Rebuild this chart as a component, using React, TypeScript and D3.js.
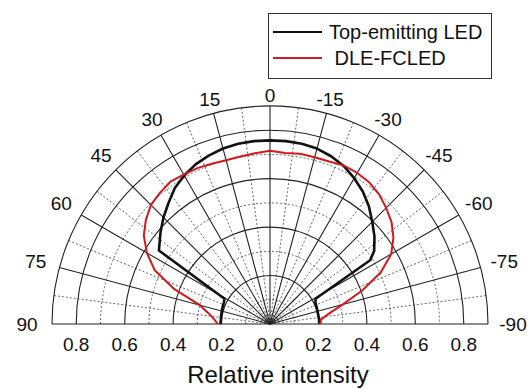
import React from 'react';
import * as d3 from 'd3';

const W = 532;
const H = 389;
const CX = 270;
const CY = 324;
const OUTER_PX = 218;
const R_MAX = 0.9;

// Polar grid
const ringMajor = [0.2, 0.4, 0.6, 0.8, 0.9];
const ringMinor = [0.1, 0.3, 0.5, 0.7];
const spokeMajor = [-90, -75, -60, -45, -30, -15, 0, 15, 30, 45, 60, 75, 90];
const spokeMinor = [-82.5, -67.5, -52.5, -37.5, -22.5, -7.5, 7.5, 22.5, 37.5, 52.5, 67.5, 82.5];
const angleLabels = [90, 75, 60, 45, 30, 15, 0, -15, -30, -45, -60, -75, -90];
const radialTicks = [0.2, 0.4, 0.6, 0.8];

// Top-emitting LED (angle in degrees, relative intensity)
const teAngles = [-90, -85, -80, -75, -70, -65, -61, -57.5, -55, -50, -45, -40, -35, -30, -25, -20, -15, -10, -5, 0, 5, 10, 15, 20, 25, 30, 35, 40, 45, 50, 55, 56.5, 61, 65, 70, 75, 80, 85, 90];
const teIntensity = [0.207, 0.205, 0.203, 0.203, 0.205, 0.207, 0.215, 0.49, 0.525, 0.563, 0.597, 0.635, 0.668, 0.695, 0.72, 0.737, 0.75, 0.756, 0.758, 0.758, 0.758, 0.756, 0.75, 0.74, 0.727, 0.708, 0.685, 0.652, 0.622, 0.59, 0.558, 0.55, 0.215, 0.21, 0.208, 0.206, 0.205, 0.204, 0.205];

// DLE-FCLED
const dleAngles = [-90, -85, -80, -75, -70, -65, -60, -55, -50, -45, -40, -35, -30, -25, -20, -15, -10, -5, 0, 5, 10, 15, 20, 25, 30, 35, 40, 45, 50, 55, 60, 65, 70, 75, 80, 85, 90];
const dleIntensity = [0.207, 0.212, 0.247, 0.31, 0.405, 0.505, 0.578, 0.622, 0.655, 0.678, 0.7, 0.714, 0.72, 0.722, 0.714, 0.713, 0.714, 0.709, 0.715, 0.708, 0.702, 0.7, 0.704, 0.71, 0.712, 0.717, 0.707, 0.695, 0.669, 0.636, 0.587, 0.525, 0.42, 0.3, 0.258, 0.232, 0.215];

const legendItems = ['Top-emitting LED', ' DLE-FCLED'];
const seriesColors = ['#111111', '#d11a1f'];

const FONT = 'Liberation Sans, Arial, sans-serif';

const rScale = d3.scaleLinear().domain([0, R_MAX]).range([0, OUTER_PX]);
const rad = (deg: number) => (deg * Math.PI) / 180;
// positive angles open to the left of 0 (top)
const px = (deg: number, r: number) => -r * Math.sin(rad(deg));
const py = (deg: number, r: number) => -r * Math.cos(rad(deg));

function arcPath(v: number) {
  const rr = rScale(v);
  const p = d3.path();
  p.moveTo(-rr, 0);
  p.arc(0, 0, rr, Math.PI, 2 * Math.PI, false);
  return p.toString();
}

const radialLine = d3
  .lineRadial<[number, number]>()
  .angle((d) => -rad(d[0]))
  .radius((d) => rScale(d[1]))
  .curve(d3.curveLinear);

export default function App() {
  const teData = teAngles.map((a, i) => [a, teIntensity[i]] as [number, number]);
  const dleData = dleAngles.map((a, i) => [a, dleIntensity[i]] as [number, number]);

  return (
    <svg
      width={W}
      height={H}
      style={{ position: 'absolute', left: 0, top: 0, background: '#fff' }}
      fontFamily={FONT}
    >
      <g transform={`translate(${CX},${CY})`}>
        {ringMinor.map((v) => (
          <path key={`rm${v}`} d={arcPath(v)} fill="none" stroke="#555" strokeWidth={0.9} strokeDasharray="2,2" />
        ))}
        {spokeMinor.map((a) => (
          <line
            key={`sm${a}`}
            x1={0}
            y1={0}
            x2={px(a, OUTER_PX)}
            y2={py(a, OUTER_PX)}
            stroke="#555"
            strokeWidth={0.9}
            strokeDasharray="2,2"
          />
        ))}
        {ringMajor.map((v) => (
          <path key={`rM${v}`} d={arcPath(v)} fill="none" stroke="#222" strokeWidth={1.1} />
        ))}
        {spokeMajor.map((a) => (
          <line key={`sM${a}`} x1={0} y1={0} x2={px(a, OUTER_PX)} y2={py(a, OUTER_PX)} stroke="#222" strokeWidth={1.1} />
        ))}

        <path d={radialLine(teData) ?? ''} fill="none" stroke={seriesColors[0]} strokeWidth={2.6} strokeLinejoin="round" />
        <path d={radialLine(dleData) ?? ''} fill="none" stroke={seriesColors[1]} strokeWidth={2} strokeLinejoin="round" />

        {angleLabels.map((a) => {
          const lr = 229 + 14 * Math.abs(Math.sin(rad(a)));
          return (
            <text
              key={`al${a}`}
              x={px(a, lr)}
              y={py(a, lr)}
              textAnchor="middle"
              dominantBaseline="central"
              fontSize={19}
              fill="#111"
            >
              {a}
            </text>
          );
        })}

        {radialTicks.map((v) => (
          <g key={`rt${v}`}>
            <text x={-rScale(v)} y={20} textAnchor="middle" dominantBaseline="central" fontSize={19} fill="#111">
              {v.toFixed(1)}
            </text>
            <text x={rScale(v)} y={20} textAnchor="middle" dominantBaseline="central" fontSize={19} fill="#111">
              {v.toFixed(1)}
            </text>
          </g>
        ))}
        <text x={0} y={20} textAnchor="middle" dominantBaseline="central" fontSize={19} fill="#111">
          {(0).toFixed(1)}
        </text>
      </g>

      <text x={278} y={374} textAnchor="middle" dominantBaseline="central" fontSize={24} fill="#111">
        Relative intensity
      </text>

      <g>
        <rect x={268.5} y={13.5} width={223} height={65} fill="#fff" stroke="#333" strokeWidth={1} />
        {legendItems.map((label, i) => (
          <g key={label}>
            <line x1={273} x2={322} y1={32 + i * 26} y2={32 + i * 26} stroke={seriesColors[i]} strokeWidth={2} />
            <text x={329} y={32 + i * 26} dominantBaseline="central" fontSize={20} fill="#111" style={{ whiteSpace: 'pre' }}>
              {label}
            </text>
          </g>
        ))}
      </g>
    </svg>
  );
}
